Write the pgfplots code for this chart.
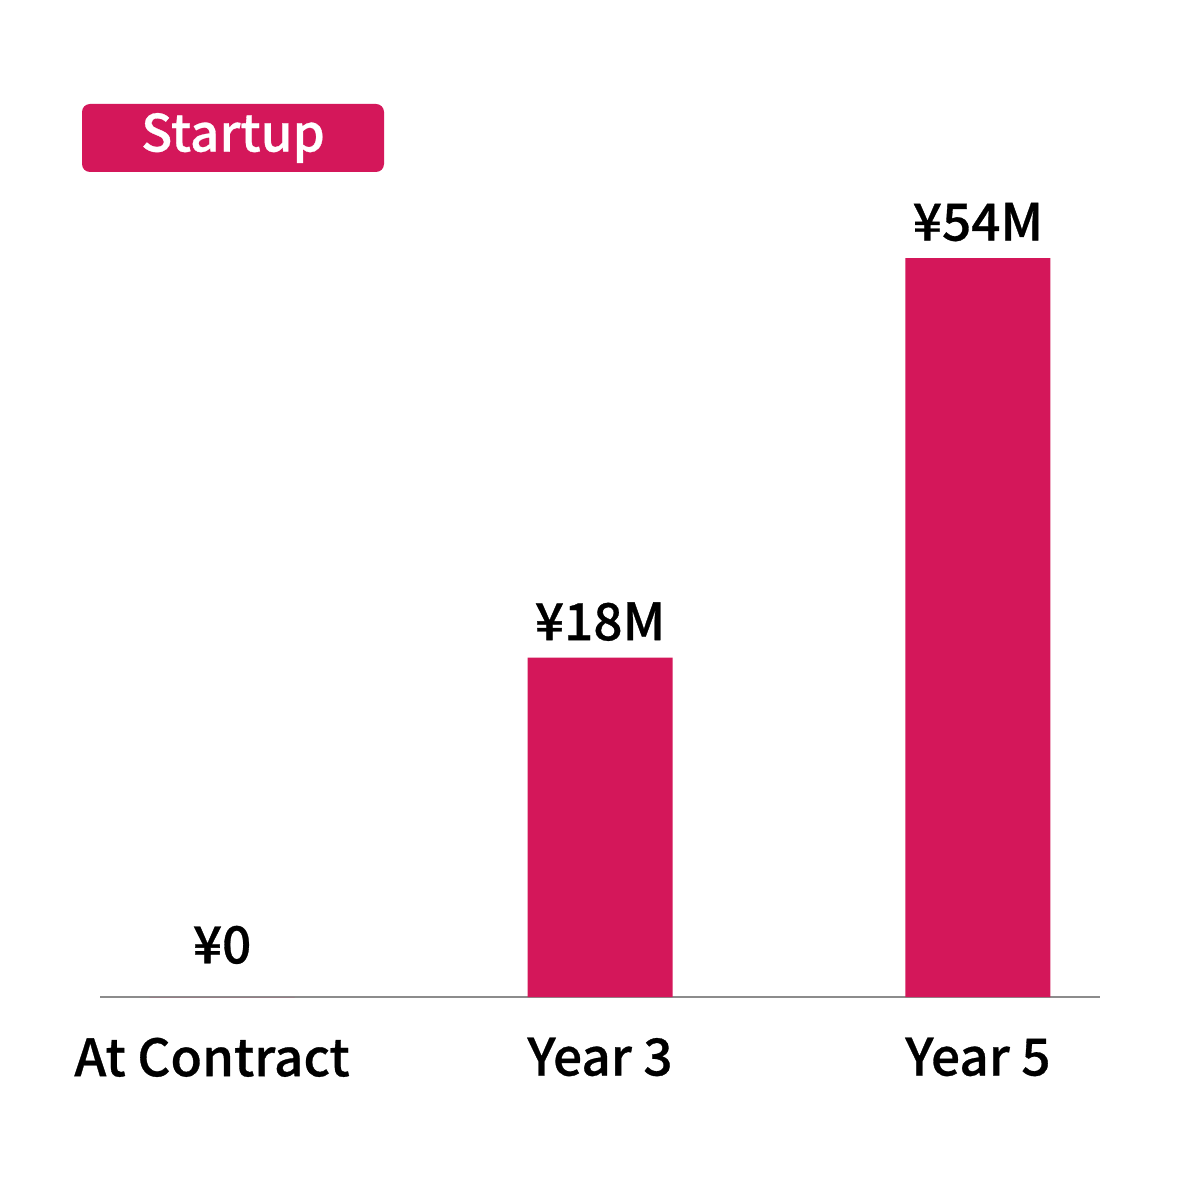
\documentclass[border=0pt]{standalone}
\usepackage{fontspec}
\setmainfont{Noto Sans CJK JP}[BoldFont={* Medium}, BoldFeatures={FakeBold=0.6}]
\usepackage{pgfplots}
\pgfplotsset{compat=1.18}
\usepackage{pgfplotstable}
\definecolor{crimson}{HTML}{D4175A}

% h = drawn bar height (the reference is not drawn to scale), lab = value label
\pgfplotstableread{
x h lab
0 0 {\raisebox{0.17cm}{¥0}}
1 24.8 {¥18M}
2 54 {¥54M}
}\startup

\newcommand{\lblfont}{\bfseries\fontsize{14.6}{17}\selectfont}

\begin{document}
\begin{tikzpicture}
\path[fill=white] (0,0) rectangle (12,12);
\begin{axis}[
    at={(1cm,2.03cm)}, anchor=south west,
    scale only axis,
    width=10cm, height=7.39cm,
    xmin=-0.323, xmax=2.323,
    ymin=0, ymax=54,
    clip=false,
    axis x line=bottom,
    axis y line=none,
    axis line style={draw=gray!90, line width=0.6pt, -},
    xtick=data,
    xticklabels={\makebox[0pt]{\hspace*{-0.2cm}At Contract}, Year 3, Year 5},
    xtick style={draw=none},
    xticklabel style={font=\lblfont, inner sep=0pt, yshift=-0.25cm},
    ybar, bar width=1.45cm,
    nodes near coords,
    point meta=explicit symbolic,
    every node near coord/.append style={font=\lblfont, text=black, inner sep=0pt, yshift=0.16cm, anchor=south},
]
\addplot[fill=crimson, draw=none] table[x=x, y=h, meta=lab] {\startup};
\end{axis}
\node[fill=crimson, rounded corners=0.08cm, minimum width=3.02cm, minimum height=0.68cm,
      inner sep=0pt, text=white, font=\lblfont] at (2.33,10.62) {Startup};
\end{tikzpicture}
\end{document}
